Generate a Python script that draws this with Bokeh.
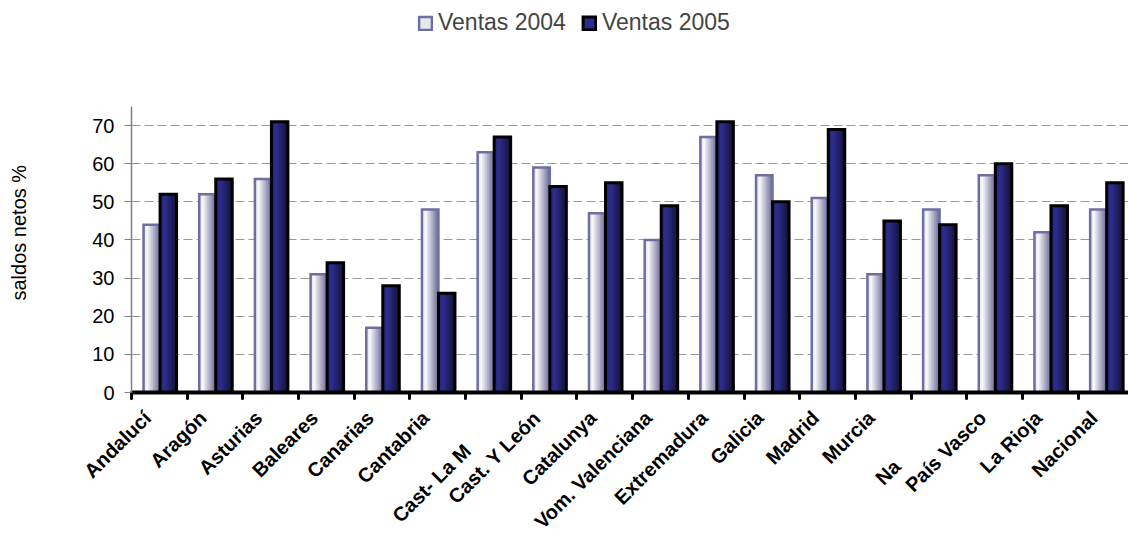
import math
import numpy as np
from bokeh.plotting import figure
from bokeh.models import (Range1d, FixedTicker, LinearAxis, Legend, LegendItem,
                          Title, ColumnDataSource)
from bokeh.transform import dodge
from bokeh.embed import file_html
from bokeh.resources import INLINE

# ---------------- data ----------------
categories = ["Andalucí", "Aragón", "Asturias", "Baleares", "Canarias", "Cantabria",
              "Cast- La M", "Cast. Y León", "Catalunya", "Vom. Valenciana",
              "Extremadura", "Galicia", "Madrid", "Murcia", "Na", "País Vasco",
              "La Rioja", "Nacional"]
ventas_2004 = [44, 52, 56, 31, 17, 48, 63, 59, 47, 40, 67, 57, 51, 31, 48, 57, 42, 48]
ventas_2005 = [52, 56, 71, 34, 28, 26, 67, 54, 55, 49, 71, 50, 69, 45, 44, 60, 49, 55]
series_names = ["Ventas 2004", "Ventas 2005"]
y_ticks = [0, 10, 20, 30, 40, 50, 60, 70]
y_label = "saldos netos %"
# labels that the source pushes down (overlap avoidance): trailing pad
lowered = {"Cast- La M": 6, "Na": 10}

FONT = "Liberation Sans"
n = len(categories)
idx = np.arange(n)
centers = idx + 0.5
src = ColumnDataSource(dict(x=centers, v2004=ventas_2004, v2005=ventas_2005))

X_END = 17.905
p = figure(width=1128, height=546, x_range=Range1d(0, X_END), y_range=Range1d(0, 102.8),
           x_axis_type=None, output_backend="svg", toolbar_location=None,
           min_border_left=131, min_border_right=0, min_border_top=0,
           min_border_bottom=154)
p.outline_line_color = None
p.background_fill_color = "white"


def hex2rgb(h):
    h = h.lstrip("#")
    return np.array([int(h[i:i + 2], 16) for i in (0, 2, 4)], dtype=float)


def grad(stops, t):
    for (t0, c0), (t1, c1) in zip(stops[:-1], stops[1:]):
        if t0 <= t <= t1:
            f = (t - t0) / (t1 - t0) if t1 > t0 else 0
            c = hex2rgb(c0) * (1 - f) + hex2rgb(c1) * f
            return "#%02x%02x%02x" % tuple(int(round(v)) for v in c)
    return stops[-1][1]


bar_w = 0.296
specs = [
    ("v2004", -0.136, [(0, "#c0c0d2"), (0.22, "#ffffff"), (1, "#6e6e9a")], "#6e6ea4", 2.5),
    ("v2005", 0.161, [(0, "#22226a"), (0.3, "#2e2e92"), (1, "#131338")], "#000000", 3),
]
NS = 10
legend_items = []
for (col, off, stops, lc, lw), name in zip(specs, series_names):
    sw = bar_w / NS
    mid = None
    for k in range(NS):
        t = (k + 0.5) / NS
        r = p.vbar(x=dodge("x", off - bar_w / 2 + (k + 0.5) * sw), width=sw * 1.6,
                   top=col, bottom=0, source=src, fill_color=grad(stops, t),
                   line_color=None)
        if k == NS // 3:
            mid = r
    outline = p.vbar(x=dodge("x", off), width=bar_w, top=col, bottom=0, source=src,
                     fill_color=None, line_color=lc, line_width=lw,
                     line_join="miter")
    legend_items.append(LegendItem(label=name, renderers=[mid, outline]))

# x axis: line + boundary ticks
xaxis = LinearAxis(ticker=FixedTicker(ticks=[], minor_ticks=list(range(n))),
                   axis_line_color="black", axis_line_width=4,
                   minor_tick_line_color="black", minor_tick_line_width=3,
                   minor_tick_out=6, minor_tick_in=0, minor_tick_line_cap="round",
                   major_tick_out=0, major_tick_in=0, major_label_standoff=0,
                   major_tick_line_color=None, major_label_text_font_size="0px")
p.add_layout(xaxis, "below")

# category labels: same scale, nudged left as in the source
NBSP = "\u00a0"
LSHIFT = 0.215
p.extra_x_ranges = {"labels": Range1d(LSHIFT, X_END + LSHIFT)}
laxis = LinearAxis(x_range_name="labels", ticker=FixedTicker(ticks=list(centers)),
                   major_label_overrides={float(x): ("\n" + c + NBSP * lowered[c] if c in lowered else c)
                                          for x, c in zip(centers, categories)},
                   axis_line_color=None, major_tick_line_color=None,
                   major_tick_out=0, major_tick_in=0,
                   minor_tick_line_color=None, major_label_orientation=math.pi / 4,
                   major_label_standoff=16,
                   major_label_text_font=FONT, major_label_text_font_style="bold",
                   major_label_text_font_size="20px", major_label_text_color="black")
p.add_layout(laxis, "below")

# y axis
p.yaxis.ticker = FixedTicker(ticks=y_ticks)
p.yaxis.bounds = (0, 75)
p.yaxis.axis_line_color = "#808080"
p.yaxis.axis_line_width = 1.5
p.yaxis.major_tick_line_color = "#808080"
p.yaxis.major_tick_out = 7
p.yaxis.major_tick_in = 0
p.yaxis.minor_tick_line_color = None
p.yaxis.major_label_standoff = 10
p.yaxis.major_label_text_font = FONT
p.yaxis.major_label_text_font_size = "20px"
p.yaxis.major_label_text_color = "black"

# blank spacer axis (white tick on white) between the value axis and the axis title
spacer = LinearAxis(ticker=FixedTicker(ticks=[0]), axis_line_color=None,
                    major_tick_out=60, major_tick_in=0, major_label_standoff=0,
                    major_tick_line_color="white",
                    major_label_overrides={0: ""},
                    minor_tick_out=0, minor_tick_in=0,
                    major_label_text_font_size="1px")
p.add_layout(spacer, "left")
p.add_layout(Title(text=y_label, align="left", offset=92, standoff=0,
                   vertical_align="bottom",
                   text_font=FONT, text_font_size="20px", text_font_style="normal",
                   text_color="black"), "left")

p.ygrid.ticker = FixedTicker(ticks=y_ticks[1:])
p.ygrid.grid_line_color = "#999999"
p.ygrid.grid_line_dash = "9 4"
p.ygrid.grid_line_width = 1

legend = Legend(items=legend_items, orientation="horizontal", location=(286, 356),
                glyph_width=16, glyph_height=16, label_text_font=FONT,
                label_text_font_size="23px", label_standoff=5, spacing=15,
                padding=0, margin=0, border_line_color=None,
                background_fill_alpha=0)
p.add_layout(legend, "center")

open("out.html", "w").write(file_html(p, INLINE))
